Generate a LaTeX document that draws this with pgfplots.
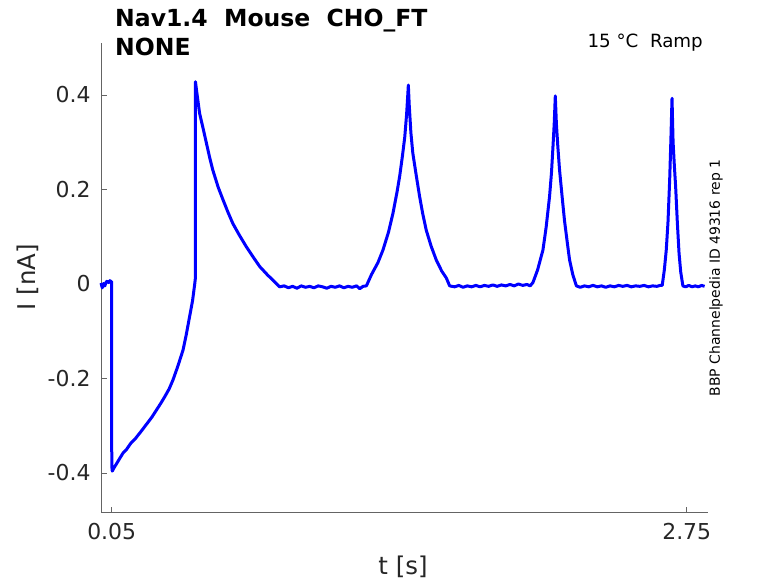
\documentclass[border=0pt]{standalone}
\usepackage{fontspec}
\setmainfont{DejaVu Sans}
\usepackage{pgfplots}
\pgfplotsset{compat=1.18}
\definecolor{txt}{RGB}{38,38,38}
\definecolor{axc}{RGB}{100,100,100}
\begin{document}
\begin{tikzpicture}[x=1bp,y=1bp]
\useasboundingbox (0,0) rectangle (778,583);
\begin{axis}[
  at={(101bp,70.3bp)}, anchor=south west,
  scale only axis, width=607bp, height=469.7bp,
  xmin=0, xmax=2.85, ymin=-0.484, ymax=0.51,
  axis x line*=bottom, axis y line*=left,
  axis line style={axc, line width=0.8pt, -},
  tick align=inside, major tick length=6bp,
  tick style={axc, line width=0.8pt},
  xtick={0.05,2.75}, xticklabels={0.05,2.75},
  ytick={-0.4,-0.2,0,0.2,0.4}, yticklabels={-0.4,-0.2,0,0.2,0.4},
  ticklabel style={font=\fontsize{22}{26}\selectfont, text=txt},
  yticklabel style={xshift=-7bp},
  xticklabel style={yshift=-7bp},
  clip=false,
]
\addplot[color=blue, line width=3bp, line join=round] coordinates {
(0.000,0.002) (0.006,-0.008) (0.012,0.001) (0.018,-0.004) (0.024,0.004) (0.030,0.006) (0.036,0.003) (0.042,0.007) (0.048,0.005) (0.050,0.005)
(0.0505,-0.385) (0.053,-0.396) (0.060,-0.390) (0.080,-0.375) (0.103,-0.358) (0.120,-0.350) (0.140,-0.337) (0.160,-0.328) (0.181,-0.316)
(0.200,-0.305) (0.220,-0.293) (0.240,-0.281) (0.260,-0.267) (0.280,-0.253) (0.300,-0.238) (0.320,-0.222) (0.338,-0.203) (0.360,-0.175)
(0.385,-0.140) (0.400,-0.108) (0.416,-0.069) (0.430,-0.035) (0.440,0.000) (0.443,0.012)
(0.4435,0.428) (0.450,0.405) (0.463,0.361) (0.480,0.328) (0.495,0.298) (0.510,0.268) (0.525,0.241) (0.550,0.205) (0.573,0.178)
(0.596,0.152) (0.619,0.128) (0.650,0.103) (0.682,0.079) (0.710,0.060) (0.745,0.037) (0.780,0.020) (0.807,0.008) (0.825,0.000) (0.839,-0.006)
(0.860,-0.004) (0.880,-0.008) (0.900,-0.005) (0.920,-0.009) (0.940,-0.004) (0.960,-0.007) (0.980,-0.005) (1.000,-0.008) (1.020,-0.004)
(1.040,-0.006) (1.060,-0.009) (1.080,-0.005) (1.100,-0.007) (1.120,-0.004) (1.140,-0.008) (1.160,-0.005) (1.180,-0.007) (1.200,-0.004)
(1.215,-0.010) (1.230,-0.005) (1.246,-0.004)
(1.270,0.020) (1.300,0.045) (1.324,0.072) (1.350,0.110) (1.371,0.150) (1.390,0.195) (1.402,0.227) (1.415,0.270) (1.426,0.310)
(1.435,0.360) (1.441,0.405) (1.443,0.421) (1.447,0.380) (1.455,0.320) (1.464,0.277) (1.480,0.230) (1.496,0.185) (1.510,0.150)
(1.527,0.114) (1.550,0.080) (1.574,0.051) (1.600,0.027) (1.621,0.013) (1.637,-0.004)
(1.660,-0.006) (1.680,-0.003) (1.700,-0.007) (1.720,-0.004) (1.740,-0.006) (1.760,-0.003) (1.780,-0.006) (1.800,-0.003) (1.820,-0.005)
(1.840,-0.002) (1.860,-0.005) (1.880,-0.002) (1.900,-0.004) (1.920,-0.001) (1.940,-0.004) (1.960,0.000) (1.980,-0.003) (2.000,-0.001)
(2.015,-0.004) (2.028,0.003)
(2.050,0.030) (2.075,0.072) (2.090,0.120) (2.106,0.185) (2.115,0.235) (2.122,0.290) (2.128,0.340) (2.133,0.398) (2.138,0.340)
(2.145,0.290) (2.153,0.241) (2.165,0.185) (2.176,0.135) (2.190,0.085) (2.200,0.051) (2.215,0.020) (2.232,-0.004)
(2.250,-0.007) (2.270,-0.004) (2.290,-0.006) (2.310,-0.003) (2.330,-0.006) (2.350,-0.004) (2.370,-0.007) (2.390,-0.004) (2.410,-0.006)
(2.430,-0.003) (2.450,-0.005) (2.470,-0.003) (2.490,-0.006) (2.510,-0.004) (2.530,-0.005) (2.550,-0.003) (2.570,-0.006) (2.590,-0.004)
(2.610,-0.005) (2.625,-0.003) (2.635,-0.003)
(2.645,0.030) (2.654,0.072) (2.662,0.130) (2.670,0.220) (2.676,0.310) (2.681,0.393) (2.686,0.300) (2.692,0.250) (2.698,0.206)
(2.706,0.130) (2.714,0.065) (2.722,0.025) (2.732,-0.004)
(2.745,-0.006) (2.760,-0.003) (2.775,-0.006) (2.790,-0.004) (2.805,-0.006) (2.820,-0.003) (2.834,-0.005)
};
\end{axis}
\node[anchor=base west, text=black, font=\fontsize{23.6}{28}\selectfont\bfseries, inner sep=0pt] at (115,556) {Nav1.4\ \ Mouse\ \ CHO\_FT};
\node[anchor=base west, text=black, font=\fontsize{23.6}{28}\selectfont\bfseries, inner sep=0pt] at (115,527) {NONE};
\node[anchor=base east, text=black, font=\fontsize{18.3}{22}\selectfont, inner sep=0pt] at (703,535) {15 °C\ \ Ramp};
\node[rotate=90, anchor=center, text=black, font=\fontsize{14}{17}\selectfont, inner sep=0pt] at (716,305) {BBP Channelpedia ID 49316 rep 1};
\node[rotate=90, anchor=center, text=txt, font=\fontsize{24.5}{29}\selectfont, inner sep=0pt] at (28,306) {I [nA]};
\node[anchor=center, text=txt, font=\fontsize{24.5}{29}\selectfont, inner sep=0pt] at (403,16) {t [s]};
\end{tikzpicture}
\end{document}
